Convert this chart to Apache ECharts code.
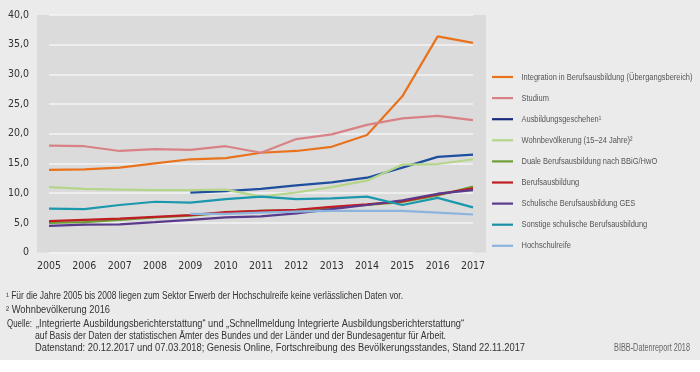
<!DOCTYPE html>
<html><head><meta charset="utf-8">
<script src="https://cdn.jsdelivr.net/npm/echarts@6/dist/echarts.min.js"></script>
<style>html,body{margin:0;padding:0;background:#fff}#c{width:700px;height:372px}</style>
</head><body><div id="c"></div>
<script>
const years = ['2005','2006','2007','2008','2009','2010','2011','2012','2013','2014','2015','2016','2017'];
const seriesNames = [
  'Integration in Berufsausbildung (Übergangsbereich)',
  'Studium',
  'Ausbildungsgeschehen¹',
  'Wohnbevölkerung (15–24 Jahre)²',
  'Duale Berufsausbildung nach BBiG/HwO',
  'Berufsausbildung',
  'Schulische Berufsausbildung GES',
  'Sonstige schulische Berufsausbildung',
  'Hochschulreife'
];
const integration   = [13.9,14.0,14.3,15.0,15.7,15.9,16.8,17.1,17.8,19.8,26.3,36.4,35.3];
const studium       = [18.0,17.9,17.1,17.4,17.3,17.9,16.8,19.1,19.9,21.5,22.6,23.0,22.3];
const ausbildung    = [null,null,null,null,10.1,10.35,10.7,11.3,11.8,12.6,14.3,16.1,16.5];
const wohnbev       = [11.0,10.7,10.6,10.5,10.5,10.6,9.4,10.1,11.0,12.1,14.8,14.9,15.7];
const duale         = [5.0,5.1,5.5,5.9,6.2,6.7,7.0,7.1,7.6,8.0,8.5,9.6,11.1];
const berufsausb    = [5.3,5.5,5.7,6.0,6.3,6.8,7.0,7.2,7.7,8.1,8.6,9.8,10.8];
const schulischGES  = [4.5,4.7,4.75,5.1,5.5,5.9,6.1,6.6,7.3,8.0,8.8,9.9,10.5];
const sonstige      = [7.4,7.3,8.0,8.55,8.4,9.0,9.4,9.0,9.1,9.4,8.0,9.2,7.6];
const hochschulreife= [null,null,null,null,6.5,6.5,6.7,6.9,7.0,7.0,7.0,6.7,6.4];
const yTicks = [0,5,10,15,20,25,30,35,40];
const footnotes = [
  '¹ Für die Jahre 2005 bis 2008 liegen zum Sektor Erwerb der Hochschulreife keine verlässlichen Daten vor.',
  '² Wohnbevölkerung 2016'
];
const sourceLabel = 'Quelle:';
const sourceLines = [
  '„Integrierte Ausbildungsberichterstattung“ und „Schnellmeldung Integrierte Ausbildungsberichterstattung“',
  'auf Basis der Daten der statistischen Ämter des Bundes und der Länder und der Bundesagentur für Arbeit.',
  'Datenstand: 20.12.2017 und 07.03.2018; Genesis Online, Fortschreibung des Bevölkerungsstandes, Stand 22.11.2017'
];
const creditText = 'BIBB-Datenreport 2018';

const allData = [integration,studium,ausbildung,wohnbev,duale,berufsausb,schulischGES,sonstige,hochschulreife];
const colors = ['#e8731c','#d98286','#1e4f9e','#b5d68a','#6e9e36','#c01c24','#5a3a8c','#1b98ad','#8cb3de'];
const legendColors = ['#e8731c','#d98286','#1a2a7e','#b5d68a','#6e9e36','#c01c24','#5a3a8c','#1b8ea8','#8cb3de'];
const FONT = "'Liberation Sans','Arial',sans-serif";

// horizontal condensation imitating the narrow font of the original (fit to measured widths)
const ctx = document.createElement('canvas').getContext('2d');
function fit(text, size, target) { ctx.font = size + 'px ' + FONT; return target / ctx.measureText(text).width; }
const SX = fit(footnotes[0], 10, 397);
const SXL = fit(seriesNames[0], 9.5, 171);

function txt(x, y, text, size, fill, align, sx) {
  return {type:'text', x:x, y:y, scaleX:(sx||SX), silent:true, z:10,
    style:{text:text, font:size+'px '+FONT, fill:fill, verticalAlign:'middle', align:align||'left'}};
}

const graphics = [
  {type:'rect',z:-10,silent:true,shape:{x:0,y:0,width:700,height:360},style:{fill:'#ebebeb'}},
  {type:'rect',z:-9,silent:true,shape:{x:37,y:15,width:449,height:237.5},style:{fill:'#dbdbdb'}},
  txt(6,296,footnotes[0],10,'#333'),
  txt(6,310,footnotes[1],10,'#333','left',fit(footnotes[1],10,104)),
  txt(7,324.5,sourceLabel,10,'#333','left',fit(sourceLabel,10,25)),
  txt(36,324.5,sourceLines[0],10,'#333','left',fit(sourceLines[0],10,428)),
  txt(35,336,sourceLines[1],10,'#333','left',fit(sourceLines[1],10,411)),
  txt(35,348,sourceLines[2],10,'#333','left',fit(sourceLines[2],10,490)),
  txt(690,348,creditText,10,'#666','right',fit(creditText,10,76))
];
// legend (built from the series names / colours)
seriesNames.forEach((n,i)=>{
  const y = 77 + i*21.1;
  graphics.push({type:'line',silent:true,z:10,shape:{x1:492,y1:y,x2:513,y2:y},style:{stroke:legendColors[i],lineWidth:2.2}});
  graphics.push(txt(521.5,y,n,9.5,'#555','left',SXL));
});

const chart = echarts.init(document.getElementById('c'), null, {renderer:'canvas'});
const series = seriesNames.map((n,i)=>({
  name:n, type:'line', data:allData[i], symbol:'none', smooth:false,
  lineStyle:{width:2.2,color:colors[i]}, itemStyle:{color:colors[i]}, z:3
}));
chart.setOption({
  backgroundColor:'#ffffff',
  animation:false,
  textStyle:{fontFamily:FONT},
  grid:{left:49,right:227,top:15,bottom:119.5,containLabel:false},
  graphic:graphics,
  xAxis:{
    type:'category', data:years, boundaryGap:false,
    axisLine:{show:false}, axisTick:{show:false},
    axisLabel:{margin:8,fontSize:10.5,color:'#333',fontFamily:"'DejaVu Sans Condensed',sans-serif"},
    splitLine:{show:false}
  },
  yAxis:{
    type:'value', min:yTicks[0], max:yTicks[yTicks.length-1], interval:5,
    axisLine:{show:false}, axisTick:{show:false},
    axisLabel:{margin:20,fontSize:10.5,color:'#333',fontFamily:"'DejaVu Sans Condensed',sans-serif",
      formatter:v=> v===0 ? '0' : v.toFixed(1).replace('.',',')},
    splitLine:{lineStyle:{color:'#f4f4f4',width:1.5}}
  },
  series
});
</script></body></html>
